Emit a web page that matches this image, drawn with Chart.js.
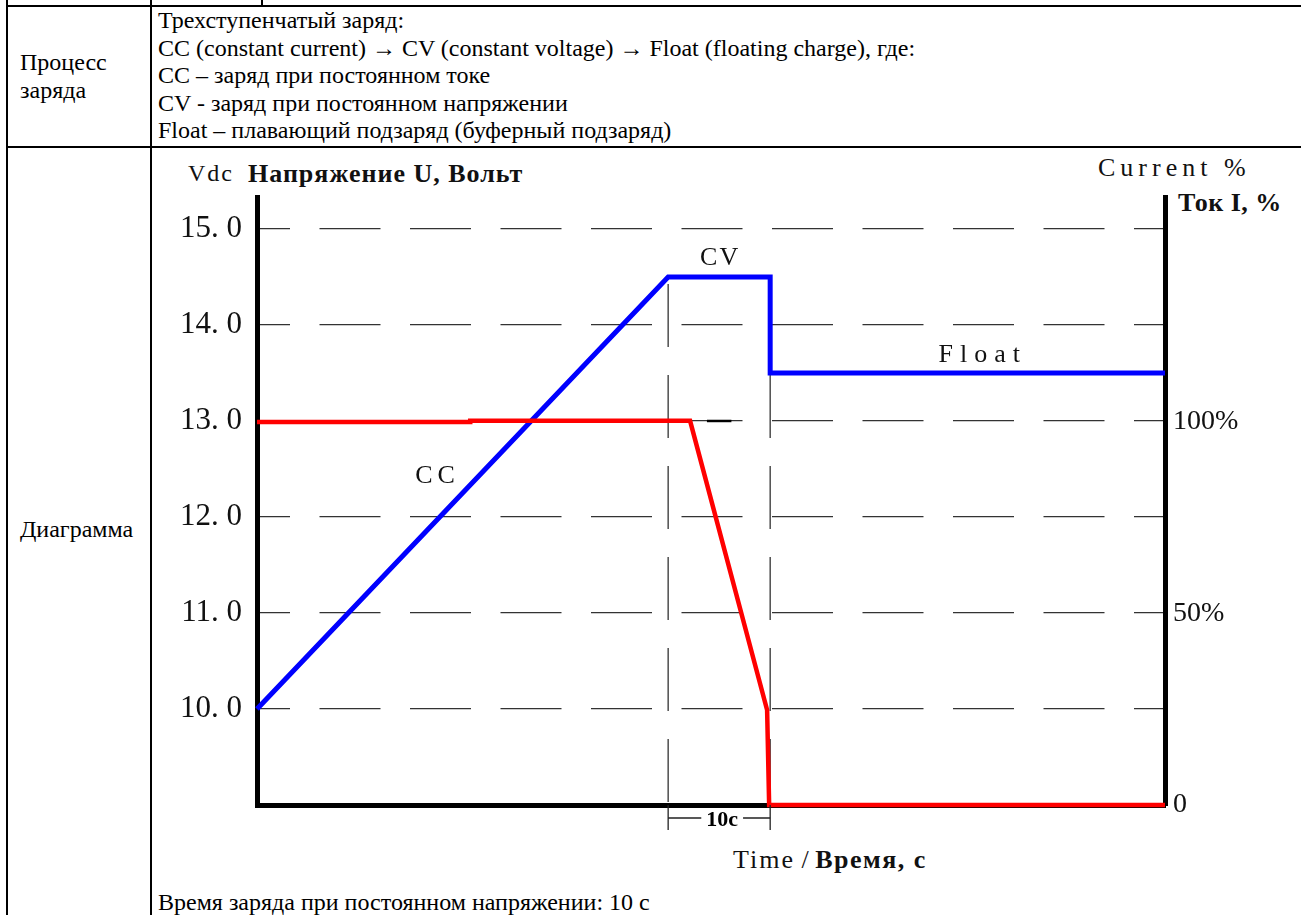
<!DOCTYPE html>
<html><head><meta charset="utf-8">
<script src="https://cdn.jsdelivr.net/npm/chart.js@4.4.1/dist/chart.umd.min.js"></script>
<style>
html,body{margin:0;padding:0;background:#fff;}
body{width:1301px;height:915px;position:relative;overflow:hidden;font-family:"Liberation Serif","Times New Roman",Times,serif;color:#000;}
.l{position:absolute;background:#000;}
.t{position:absolute;white-space:nowrap;font-family:"Liberation Serif","Times New Roman",Times,serif;font-size:24px;line-height:27.6px;}
.a{position:absolute;white-space:nowrap;line-height:1;color:#111;font-family:"Liberation Serif","Times New Roman",Times,serif;}
canvas{position:absolute;left:0;top:0;}
</style></head><body>
<div class="l" style="left:6px;top:0px;width:2px;height:915px"></div>
<div class="l" style="left:6px;top:5px;width:1295px;height:2px"></div>
<div class="l" style="left:150px;top:0px;width:2px;height:915px"></div>
<div class="l" style="left:261px;top:0px;width:2px;height:6px"></div>
<div class="l" style="left:6px;top:146px;width:1295px;height:2px"></div>

<div class="t" style="left:20px;top:49px">Процесс<br>заряда</div>
<div class="t" style="left:158px;top:7px">Трехступенчатый заряд:<br>CC (constant current) → CV (constant voltage) → Float (floating charge), где:<br>CC – заряд при постоянном токе<br>CV - заряд при постоянном напряжении<br>Float – плавающий подзаряд (буферный подзаряд)</div>

<div class="t" style="left:20px;top:516px">Диаграмма</div>
<div class="t" style="left:158px;top:889px">Время заряда при постоянном напряжении: 10 с</div>

<div class="a" style="left:188px;top:161px;font-size:24px;letter-spacing:2px">Vdc</div>
<div class="a" style="left:248px;top:161px;font-size:26px;font-weight:bold;letter-spacing:1px">Напряжение U, Вольт</div>
<div class="a" style="left:1098px;top:155px;font-size:26px;letter-spacing:5px">Current %</div>
<div class="a" style="left:1178px;top:190px;font-size:26px;font-weight:bold;letter-spacing:0.5px">Ток I, %</div>
<div class="a" style="left:733px;top:847px;font-size:26px"><span style="letter-spacing:2px">Time</span> / <b style="letter-spacing:1.5px">Время, с</b></div>

<canvas id="c" width="1301" height="915"></canvas>
<script>
// ---- data ----
const voltTime   = [0, 40.3, 50.3, 50.3, 89];
const voltValues = [10.0, 14.5, 14.5, 13.5, 13.5];
const currTime   = [0, 20.9, 20.9, 42.45, 50.0, 50.2, 89];
const currValues = [100, 100, 100.3, 100.3, 24.8, 0, 0];
const voltTicks  = [10, 11, 12, 13, 14, 15];
const voltLabels = ['10. 0', '11. 0', '12. 0', '13. 0', '14. 0', '15. 0'];
const currTicks  = [0, 50, 100];
const currLabels = ['0', '50%', '100%'];
const phaseMarks = [40.3, 50.3];          // CV stage start / end, s
const phaseLabel = '10c';
const gridMark   = [44.1, 46.5];          // short dark dash on the 13.0 line
const notes = [
  {text: 'CC',    x: 17.45, y: 12.42, ls: 5},
  {text: 'CV',    x: 45.3,  y: 14.70, ls: 2},
  {text: 'Float', x: 70.8,  y: 13.69, ls: 7}
];

const SERIF = '"Liberation Serif", "Times New Roman", serif';
const pts = (xs, ys) => xs.map((t, i) => ({x: t, y: ys[i]}));

const annot = {
  id: 'annot',
  afterDatasetsDraw(chart) {
    const {ctx, scales: {x, y}} = chart;
    ctx.save();
    ctx.fillStyle = '#111';
    ctx.textAlign = 'center';
    ctx.textBaseline = 'middle';
    ctx.font = '26px ' + SERIF;
    notes.forEach(n => {
      ctx.letterSpacing = n.ls + 'px';
      ctx.fillText(n.text, x.getPixelForValue(n.x) + n.ls / 2, y.getPixelForValue(n.y));
    });
    ctx.letterSpacing = '0px';
    // dimension marker for the CV stage
    const x1 = x.getPixelForValue(phaseMarks[0]);
    const x2 = x.getPixelForValue(phaseMarks[1]);
    const b = chart.chartArea.bottom;
    ctx.strokeStyle = '#222';
    ctx.lineWidth = 1.3;
    ctx.beginPath();
    ctx.moveTo(x1, b); ctx.lineTo(x1, b + 25);
    ctx.moveTo(x2, b); ctx.lineTo(x2, b + 25);
    ctx.stroke();
    ctx.font = 'bold 22px ' + SERIF;
    const mid = (x1 + x2) / 2 + 3;
    const w = ctx.measureText(phaseLabel).width;
    ctx.beginPath();
    ctx.moveTo(x1, b + 13); ctx.lineTo(mid - w / 2 - 5, b + 13);
    ctx.moveTo(mid + w / 2 + 5, b + 13); ctx.lineTo(x2, b + 13);
    ctx.stroke();
    ctx.fillStyle = '#000';
    ctx.fillText(phaseLabel, mid, b + 15);
    ctx.restore();
  }
};

const vLine = xv => ({
  data: [{x: xv, y: voltValues[1]}, {x: xv, y: 9}],
  yAxisID: 'y', borderColor: '#333', borderWidth: 1.3,
  borderDash: [63, 28], borderDashOffset: 84,
  pointRadius: 0, clip: false
});

new Chart(document.getElementById('c'), {
  type: 'line',
  data: {
    datasets: [
      {label: 'Ток I, %', data: pts(currTime, currValues), yAxisID: 'y2',
       borderColor: '#ff0000', borderWidth: 4.5, pointRadius: 0, clip: false,
       borderJoinStyle: 'miter', tension: 0},
      {label: 'Напряжение U, Вольт', data: pts(voltTime, voltValues), yAxisID: 'y',
       borderColor: '#0000ff', borderWidth: 5, pointRadius: 0, clip: false,
       borderJoinStyle: 'miter', tension: 0},
      {data: [{x: gridMark[0], y: 13}, {x: gridMark[1], y: 13}], yAxisID: 'y',
       borderColor: '#000', borderWidth: 2.5, pointRadius: 0, clip: false},
      vLine(phaseMarks[0]),
      vLine(phaseMarks[1])
    ]
  },
  options: {
    responsive: false,
    animation: false,
    devicePixelRatio: 1,
    layout: {padding: {top: 197, left: 0, right: 0, bottom: 0}},
    plugins: {legend: {display: false}, tooltip: {enabled: false}},
    scales: {
      x: {
        type: 'linear', min: 0, max: 89, position: 'bottom',
        ticks: {display: false},
        grid: {display: true, drawOnChartArea: false, drawTicks: false},
        border: {display: true, color: '#000', width: 5},
        afterFit: s => { s.height = 110; }
      },
      y: {
        type: 'linear', min: 9, max: 15.333, position: 'left',
        afterBuildTicks: s => { s.ticks = voltTicks.map(v => ({value: v})); },
        ticks: {
          callback: v => voltLabels[voltTicks.indexOf(v)],
          font: {family: SERIF, size: 31}, color: '#111', padding: 15
        },
        grid: {color: '#333', lineWidth: 1.3, drawTicks: false},
        border: {display: true, color: '#000', width: 5, dash: [61, 29.5], dashOffset: 31},
        afterFit: s => { s.width = 257; }
      },
      y2: {
        type: 'linear', min: 0, max: 158.75, position: 'right',
        afterBuildTicks: s => { s.ticks = currTicks.map(v => ({value: v})); },
        ticks: {
          callback: v => currLabels[currTicks.indexOf(v)],
          font: {family: SERIF, size: 28}, color: '#111', padding: 8
        },
        grid: {display: true, drawOnChartArea: false, drawTicks: false},
        border: {display: true, color: '#000', width: 5},
        afterFit: s => { s.width = 136; }
      }
    }
  },
  plugins: [annot]
});
</script>
</body></html>
